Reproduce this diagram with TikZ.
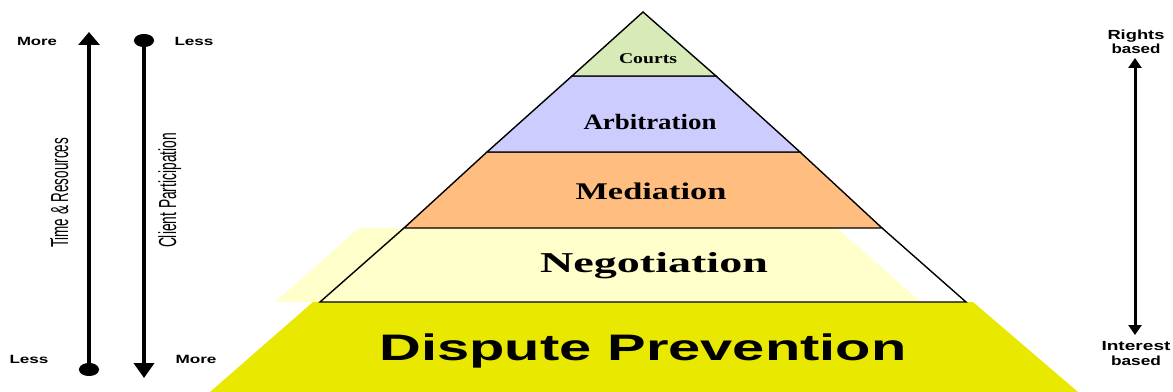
\documentclass[tikz,border=0pt]{standalone}
\usepackage{fontspec}
\setmainfont{Liberation Serif}
\setsansfont{Liberation Sans}
\usetikzlibrary{arrows.meta}
\definecolor{courtsgreen}{RGB}{216,234,184}
\definecolor{arbblue}{RGB}{204,204,255}
\definecolor{medorange}{RGB}{255,190,128}
\definecolor{negyellow}{RGB}{255,255,204}
\definecolor{prevyellow}{RGB}{232,232,0}
\newcommand{\fitw}[2]{\resizebox{#1}{\height}{#2}}

\begin{document}
\begin{tikzpicture}[x=0.02cm, y=-0.02cm,
    band/.style={draw=black, line width=0.8pt, line join=miter},
    tier/.style={anchor=base, inner sep=0pt, font=\bfseries\fontsize{#1}{#1}\selectfont},
    tier/.default=12,
    sidelbl/.style={anchor=base, inner sep=0pt, font=\sffamily\bfseries\fontsize{#1}{#1}\selectfont},
    sidelbl/.default=6.8,
    axislbl/.style={anchor=base, inner sep=0pt, rotate=90, font=\sffamily\fontsize{14}{16}\selectfont},
    axis/.style={line width=2.3pt}]
    \useasboundingbox (0,0) rectangle (1173,392);
    \clip (0,0) rectangle (1173,392);

    \fill[prevyellow] (313,302) -- (973,302) -- (1078,392) -- (210,392) -- cycle;
    \fill[negyellow] (359,228) -- (837,228) -- (921,302) -- (275,302) -- cycle;
    \draw[band] (404,228) -- (320,302) -- (966,302) -- (882,228);
    \draw[band, fill=medorange] (487,152) -- (800,152) -- (882,228) -- (404,228) -- cycle;
    \draw[band, fill=arbblue] (572,76) -- (716,76) -- (800,152) -- (487,152) -- cycle;
    \draw[band, fill=courtsgreen] (643,12) -- (716,76) -- (572,76) -- cycle;

    \node[tier=8.5] (courts) at (648,63) {\fitw{1.16cm}{Courts}};
    \node[tier=12.5] (arbitration) at (650,129) {\fitw{2.66cm}{Arbitration}};
    \node[tier=13.6] (mediation) at (651,199) {\fitw{3.02cm}{Mediation}};
    \node[tier=16.4] (negotiation) at (654,272) {\fitw{4.56cm}{Negotiation}};
    \node[tier=20.4, font=\sffamily\bfseries\fontsize{21}{21}\selectfont] (prevention) at (643,360) {\fitw{10.54cm}{Dispute Prevention}};

    \coordinate (timetop) at (89,32);
    \coordinate (timebot) at (89,376);
    \coordinate (clienttop) at (144,34);
    \coordinate (clientbot) at (144,378);
    \draw[axis, {Ellipse[length=0.26cm, width=0.4cm]}-{Triangle[length=0.26cm, width=0.42cm]}] (timebot) -- (timetop);
    \draw[axis, {Ellipse[length=0.26cm, width=0.4cm]}-{Triangle[length=0.3cm, width=0.4cm]}] (clienttop) -- (clientbot);
    \node[axislbl] (timelbl) at (68,193) {\fitw{2.2cm}{Time \& Resources}};
    \node[axislbl] (clientlbl) at (176,190.5) {\fitw{2.3cm}{Client Participation}};

    \node[sidelbl] (timemore) at (37,46) {\fitw{0.8cm}{More}};
    \node[sidelbl] (clientless) at (194,46) {\fitw{0.78cm}{Less}};
    \node[sidelbl] (timeless) at (29,363) {\fitw{0.78cm}{Less}};
    \node[sidelbl] (clientmore) at (196,363) {\fitw{0.82cm}{More}};

    \coordinate (rightstop) at (1135,58);
    \coordinate (rightsbot) at (1135,335);
    \draw[line width=1.7pt, {Triangle[length=0.2cm, width=0.26cm]}-{Triangle[length=0.2cm, width=0.26cm]}] (rightstop) -- (rightsbot);
    \node[sidelbl=7.5] (rights) at (1136,39) {\fitw{1.14cm}{Rights}};
    \node[sidelbl=7.5] (rightsbased) at (1136,53) {\fitw{0.98cm}{based}};
    \node[sidelbl=7.5] (interest) at (1136,350) {\fitw{1.38cm}{Interest}};
    \node[sidelbl=7.5] (interestbased) at (1136,365) {\fitw{1.0cm}{based}};
\end{tikzpicture}
\end{document}
